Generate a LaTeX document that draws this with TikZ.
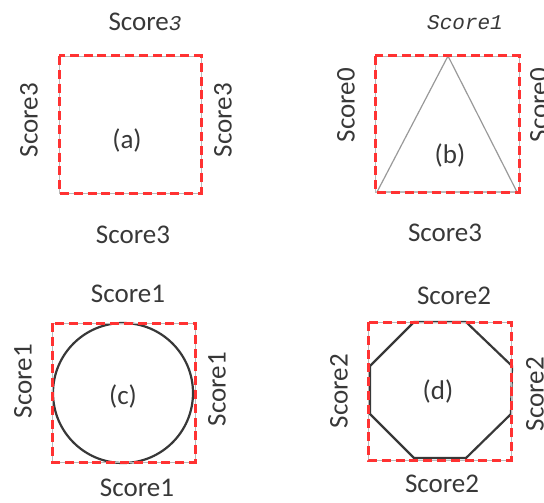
\documentclass[tikz,border=0pt]{standalone}
\usepackage{fontspec}
\setmainfont{Carlito}
\newfontfamily\slantfont{Liberation Mono}
\usetikzlibrary{positioning}
\definecolor{boxred}{RGB}{255,50,50}
\definecolor{inkgray}{RGB}{56,56,56}

\begin{document}
\begin{tikzpicture}[x=0.5pt,y=-0.5pt,
  font=\fontsize{13.5}{16}\selectfont,
  boxframe/.style={draw=boxred, line width=1.5pt, dash pattern=on 4.5pt off 2.4pt},
  boxbase/.style={draw=gray!55, line width=0.4pt},
  outline/.style={draw=inkgray, line width=1.1pt},
  thinline/.style={draw=gray!80, line width=0.6pt},
  lbl/.style={text=inkgray, inner sep=0pt},
  sidelbl/.style={lbl, rotate=90},
  oddfont/.style={font=\fontsize{10.5}{12}\selectfont\slantfont\itshape}
]
\useasboundingbox (0,0) rectangle (544,502);

% shapes inside the boxes
\draw[thinline] (448,56) -- (517,192) -- (377,192) -- cycle;
\draw[outline] (123,393) circle (70);
\draw[outline] (414,322) -- (466,322) -- (512,366) -- (511,414)
  -- (466,458) -- (414,458) -- (370,414) -- (370,366) -- cycle;

% dashed boxes
\foreach \n/\xa/\ya/\xb/\yb in {a/59/56/201/193, b/375/56/519/192, c/52/323/195/462, d/368/322/511/460}{
  \draw[boxbase] (\xa,\ya) rectangle (\xb,\yb);
  \draw[boxframe] (\xa,\ya) rectangle (\xb,\yb);
}

% (a)
\node[lbl] (aTop) at (145,22) {Score{\fontsize{10.5}{12}\selectfont\slantfont\itshape 3}};
\node[sidelbl] (aLeft) at (29,120) {Score3};
\node[sidelbl] (aRight) at (223,120) {Score3};
\node[lbl] (aBot) at (133,235) {Score3};
\node[lbl] (aTag) at (127,140) {(a)};

% (b)
\node[lbl, oddfont] (bTop) at (465,23) {Score1};
\node[sidelbl] (bLeft) at (346,105) {Score0};
\node[sidelbl] (bRight) at (539,105) {Score0};
\node[lbl] (bBot) at (445,233) {Score3};
\node[lbl] (bTag) at (450,155) {(b)};

% (c)
\node[lbl] (cTop) at (128,294) {Score1};
\node[sidelbl] (cLeft) at (23,381) {Score1};
\node[sidelbl] (cRight) at (217,389) {Score1};
\node[lbl] (cBot) at (137,488) {Score1};
\node[lbl] (cTag) at (123,396) {(c)};

% (d)
\node[lbl] (dTop) at (454,296) {Score2};
\node[sidelbl] (dLeft) at (339,391) {Score2};
\node[sidelbl] (dRight) at (535,394) {Score2};
\node[lbl] (dBot) at (442,484) {Score2};
\node[lbl] (dTag) at (438,391) {(d)};
\end{tikzpicture}
\end{document}
